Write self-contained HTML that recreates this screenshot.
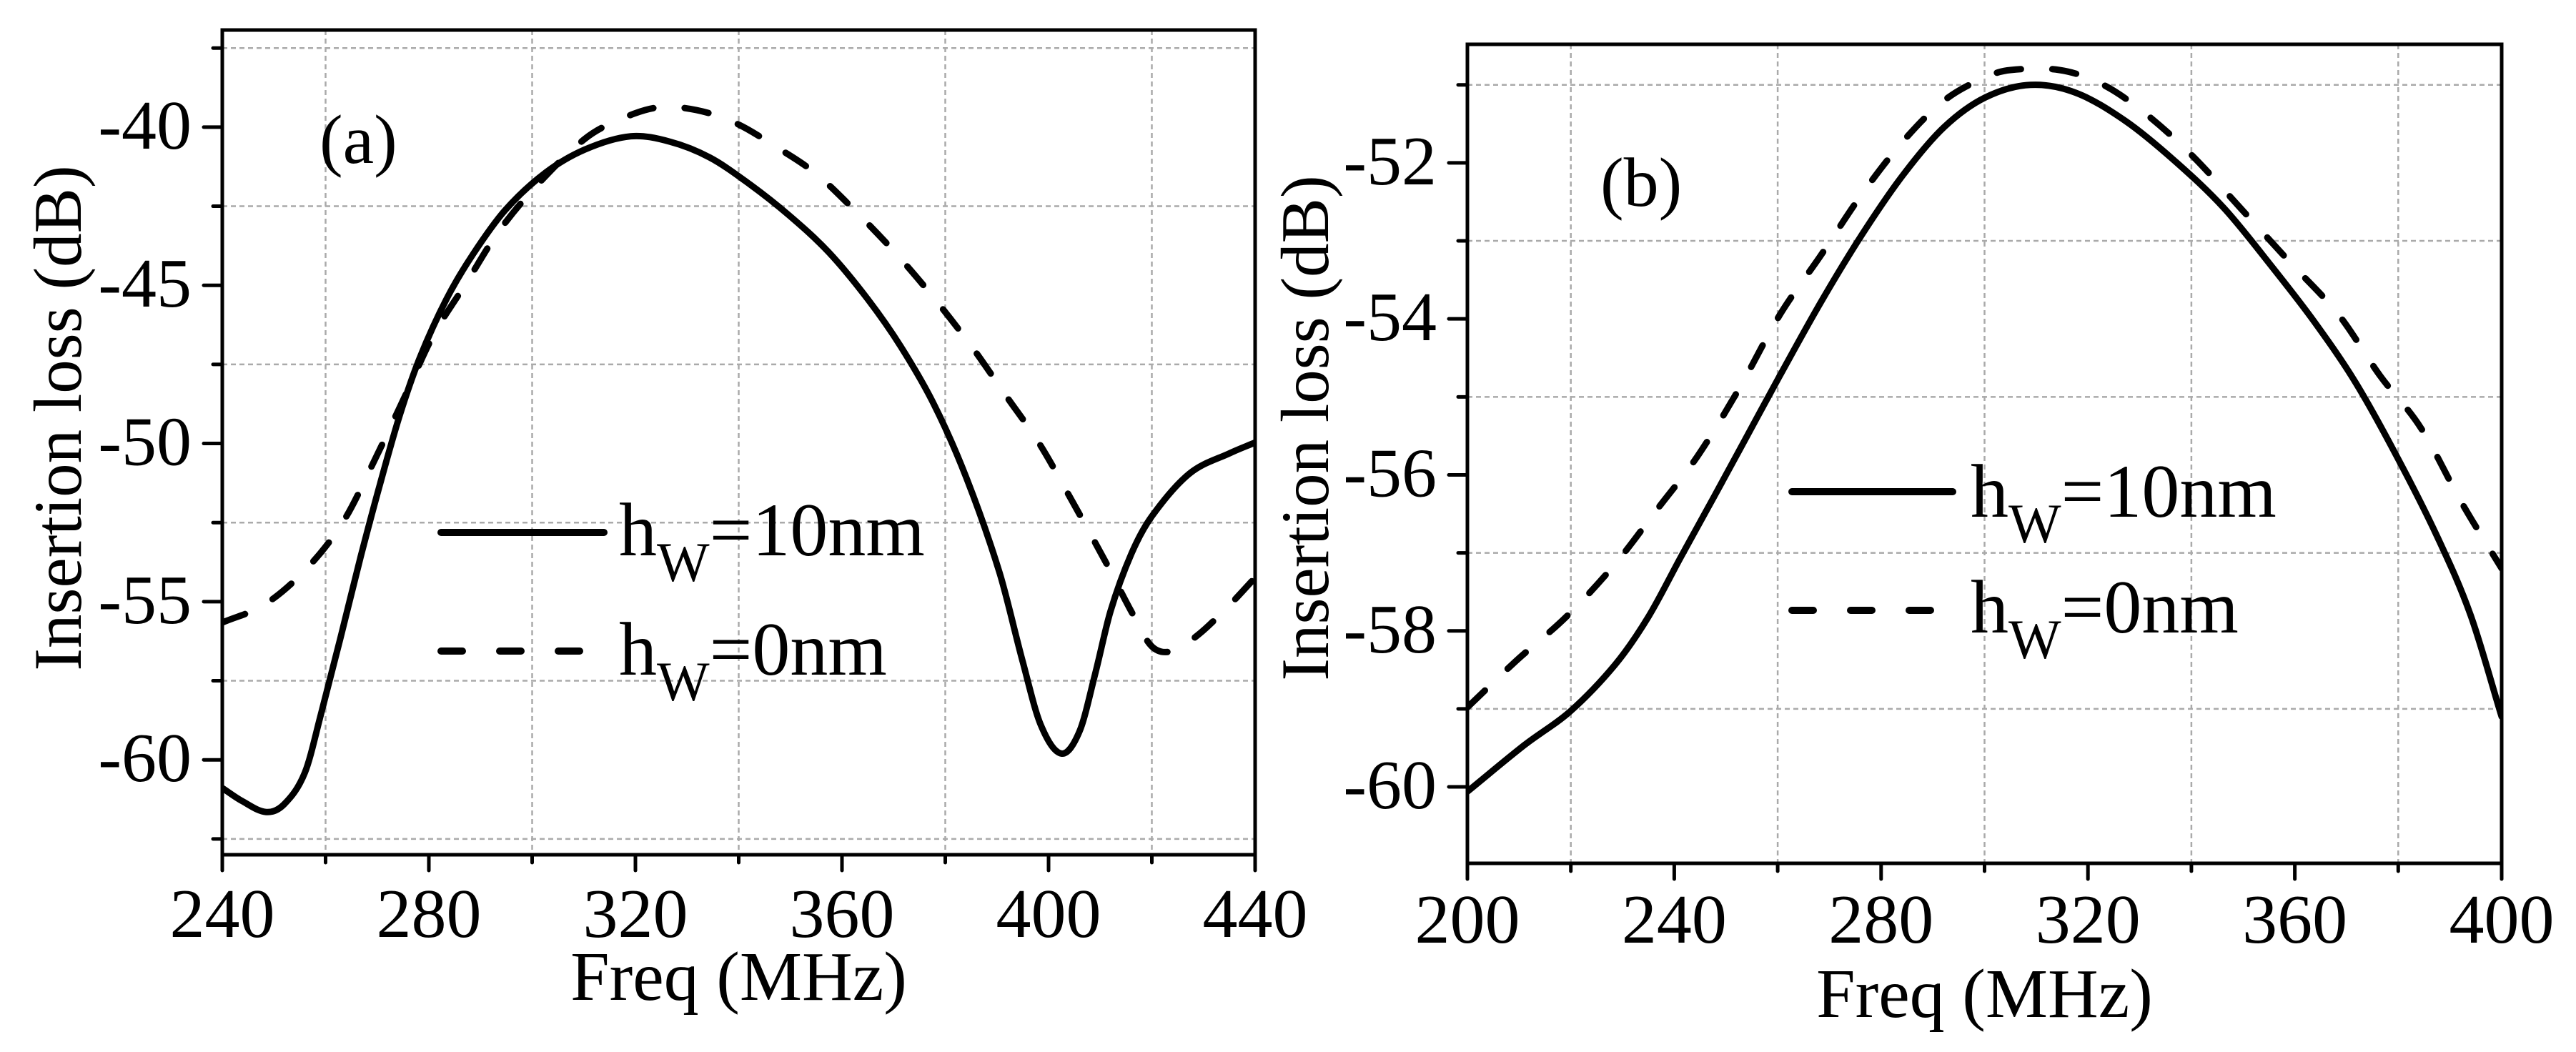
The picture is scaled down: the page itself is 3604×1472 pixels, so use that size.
<!DOCTYPE html>
<html><head><meta charset="utf-8">
<style>
html,body{margin:0;padding:0;background:#fff;}
svg{display:block;}
text{font-family:"Liberation Serif","Times New Roman",serif;fill:#000;}
</style></head>
<body>
<svg id="fig" width="3604" height="1472" viewBox="0 0 3604 1472" xmlns="http://www.w3.org/2000/svg">
<defs>
<clipPath id="clipA"><rect x="311" y="42" width="1445" height="1154"/></clipPath>
<clipPath id="clipB"><rect x="2053" y="62" width="1447" height="1146"/></clipPath>
</defs>
<g id="panelA"></g>
<g id="panelB"></g>
</svg>
<script>
// Panel (a) data
const aFreqSolid = [240,243.8,248.5,252,256,259.1,263,266.8,270.6,274.4,278.3,283.4,288.5,294.8,302.5,310.2,319.1,326.7,334.4,342,349.7,357.4,365,371.4,377.8,384.1,390.5,395,398.5,402.5,406,409,412,416,420,427.3,435.2,440];
const aLossSolid = [-60.89,-61.3,-61.65,-61.4,-60.4,-58.56,-56.07,-53.58,-51.25,-49.09,-47.27,-45.44,-44.03,-42.62,-41.45,-40.71,-40.29,-40.46,-40.96,-41.79,-42.78,-43.95,-45.44,-46.94,-48.76,-51.09,-54.08,-56.9,-58.9,-59.8,-59.1,-57.3,-55.3,-53.5,-52.3,-50.95,-50.3,-49.97];
const aFreqDash = [240,248.3,256.6,263.6,269.3,275.1,280.8,287.2,293.6,301.2,310.2,316.5,324.2,331.8,339.5,347.2,354.8,362.4,370.2,377.8,385.4,391.8,398.2,404.5,410.9,416,419.9,423.7,428.8,435.2,440];
const aLossDash = [-55.66,-55.08,-53.91,-52.42,-50.59,-48.6,-46.6,-44.94,-43.28,-41.79,-40.37,-39.79,-39.38,-39.46,-39.88,-40.62,-41.45,-42.62,-43.95,-45.4,-47.0,-48.5,-50.0,-51.8,-53.7,-55.3,-56.4,-56.57,-56.07,-55.08,-54.24];
const aXTicks = [240,280,320,360,400,440];
const aYTicks = [-40,-45,-50,-55,-60];
// Panel (b) data
const bFreqSolid = [200,211.1,219.9,228.6,235,241.3,247.7,254.1,260.4,268.4,276.3,284.3,292.2,300.2,308.9,317.6,327.2,336.7,346.3,355.8,363.8,371.7,379.7,387.6,394,400];
const bLossSolid = [-60.06,-59.46,-59.03,-58.43,-57.82,-57.05,-56.28,-55.5,-54.73,-53.78,-52.92,-52.15,-51.54,-51.16,-51.0,-51.1,-51.46,-51.97,-52.58,-53.35,-54.04,-54.81,-55.76,-56.8,-57.8,-59.1];
const bFreqDash = [200,209.5,219.1,228.6,236.6,244.5,252.5,260.4,268.4,276.3,284.3,292.2,300.2,305,314.5,322.4,330.4,339.9,349.5,359,368.5,376.5,384.4,392.3,400];
const bLossDash = [-58.98,-58.38,-57.82,-57.14,-56.45,-55.76,-54.9,-53.95,-53.18,-52.4,-51.72,-51.2,-50.9,-50.81,-50.81,-50.98,-51.33,-51.89,-52.58,-53.27,-53.95,-54.73,-55.4,-56.36,-57.2];
const bXTicks = [200,240,280,320,360,400];
const bYTicks = [-52,-54,-56,-58,-60];

const NS = "http://www.w3.org/2000/svg";
function mk(parent, tag, attrs, txt){
  const e = document.createElementNS(NS, tag);
  for (const k in attrs) e.setAttribute(k, attrs[k]);
  if (txt !== undefined) e.textContent = txt;
  parent.appendChild(e);
  return e;
}
// Catmull-Rom-like smooth path with x-spacing aware tangents
function smoothPath(pts){
  const n = pts.length;
  const t=[];
  for (let i=0;i<n;i++){
    const a=pts[Math.max(0,i-1)], b=pts[Math.min(n-1,i+1)];
    t[i]=(b[1]-a[1])/(b[0]-a[0]);
  }
  let d="M"+pts[0][0].toFixed(1)+","+pts[0][1].toFixed(1);
  for (let i=0;i<n-1;i++){
    const h=(pts[i+1][0]-pts[i][0])/3;
    d+=" C"+(pts[i][0]+h).toFixed(1)+","+(pts[i][1]+t[i]*h).toFixed(1)+" "+(pts[i+1][0]-h).toFixed(1)+","+(pts[i+1][1]-t[i+1]*h).toFixed(1)+" "+pts[i+1][0].toFixed(1)+","+pts[i+1][1].toFixed(1);
  }
  return d;
}

function drawPanel(g, cfg){
  const {L,R,T,B,x0,x1,y0,y1,clip} = cfg;
  const sx = v => L + (v-x0)/(x1-x0)*(R-L);
  const sy = v => B - (v-y0)/(y1-y0)*(B-T);
  const grid = mk(g,"g",{stroke:"#aaa","stroke-width":2.5,"stroke-dasharray":"7 5",fill:"none"});
  
  
  for (let i=0;i<cfg.xTicks.length-1;i++){
    const v = (cfg.xTicks[i]+cfg.xTicks[i+1])/2;
    mk(grid,"line",{x1:sx(v),x2:sx(v),y1:T,y2:B});
  }
  cfg.yGrid.forEach(v=>mk(grid,"line",{x1:L,x2:R,y1:sy(v),y2:sy(v)}));
  const series = [[cfg.fs,cfg.ls,null,"solid-series-hw-10nm"],[cfg.fd,cfg.ld,"34 44","dashed-series-hw-0nm"]];
  series.forEach(s=>{
    const pts = s[0].map((f,i)=>[sx(f),sy(s[1][i])]);
    const p = mk(g,"path",{d:smoothPath(pts),fill:"none",stroke:"#000","stroke-width":9,"stroke-linecap":"round","stroke-linejoin":"round","clip-path":"url(#"+clip+")"});
    if (s[2]) p.setAttribute("stroke-dasharray",s[2]);
    
    
  });
  const fr = mk(g,"rect",{x:L,y:T,width:R-L,height:B-T,fill:"none",stroke:"#000","stroke-width":5});
  
  
  cfg.xTicks.forEach((v,i)=>{
    mk(g,"line",{x1:sx(v),x2:sx(v),y1:B,y2:B+22,stroke:"#000","stroke-width":5,"stroke-linecap":"round"});
    if (i<cfg.xTicks.length-1){
      const m=(v+cfg.xTicks[i+1])/2;
      mk(g,"line",{x1:sx(m),x2:sx(m),y1:B,y2:B+11,stroke:"#000","stroke-width":5,"stroke-linecap":"round"});
    }
    const t = mk(g,"text",{x:sx(v),y:cfg.xLabY,"font-size":98,"text-anchor":"middle"},String(v));
    
    
  });
  cfg.yTicks.forEach(v=>{
    mk(g,"line",{x1:L-26,x2:L,y1:sy(v),y2:sy(v),stroke:"#000","stroke-width":5,"stroke-linecap":"round"});
    const t = mk(g,"text",{x:L-43,y:sy(v)+30,"font-size":98,"text-anchor":"end"},String(v));
    
    
  });
  cfg.yGrid.forEach(v=>{
    mk(g,"line",{x1:L-13,x2:L,y1:sy(v),y2:sy(v),stroke:"#000","stroke-width":5,"stroke-linecap":"round"});
  });
  const xt = mk(g,"text",{x:(L+R)/2,y:cfg.xTitleY,"font-size":98,"text-anchor":"middle"},"Freq (MHz)");
  
  
  const yt = mk(g,"text",{x:0,y:0,"font-size":95,"text-anchor":"middle",transform:"translate("+cfg.yTitleX+","+cfg.yTitleCY+") rotate(-90)"},"Insertion loss (dB)");
  
  
  const pl = mk(g,"text",{x:cfg.lab[0],y:cfg.lab[1],"font-size":98},cfg.lab[2]);
  
  
  const lg = mk(g,"g",{});
  
  
  const lx = cfg.leg;
  mk(lg,"line",{x1:lx.x1,x2:lx.x2,y1:lx.y1,y2:lx.y1,stroke:"#000","stroke-width":10,"stroke-linecap":"round"});
  mk(lg,"line",{x1:lx.x1,x2:lx.x2-8,y1:lx.y2,y2:lx.y2,stroke:"#000","stroke-width":10,"stroke-linecap":"round","stroke-dasharray":"30 52"});
  [[lx.b1,"=10nm"],[lx.b2,"=0nm"]].forEach(r=>{
    const t = mk(lg,"text",{x:lx.tx,y:r[0],"font-size":106});
    
    
    mk(t,"tspan",{},"h");
    mk(t,"tspan",{"font-size":78,dy:36},"W");
    mk(t,"tspan",{dy:-36},r[1]);
  });
}

drawPanel(document.getElementById("panelA"),{
  L:311,R:1756,T:42,B:1196,x0:240,x1:440,y0:-63,y1:-36.93,clip:"clipA",
  xTicks:aXTicks,yTicks:aYTicks,yGrid:[-37.5,-42.5,-47.5,-52.5,-57.5,-62.5],
  fs:aFreqSolid,ls:aLossSolid,fd:aFreqDash,ld:aLossDash,
  xLabY:1311,xTitleY:1399,yTitleX:113,yTitleCY:585,lab:[447,228,"(a)"],
  leg:{x1:617,x2:845,y1:745,y2:911,tx:866,b1:777,b2:944}
});
drawPanel(document.getElementById("panelB"),{
  L:2053,R:3500,T:62,B:1208,x0:200,x1:400,y0:-60.98,y1:-50.48,clip:"clipB",
  xTicks:bXTicks,yTicks:bYTicks,yGrid:[-51,-53,-55,-57,-59],
  fs:bFreqSolid,ls:bLossSolid,fd:bFreqDash,ld:bLossDash,
  xLabY:1319,xTitleY:1423,yTitleX:1858,yTitleCY:599,lab:[2239,288,"(b)"],
  leg:{x1:2507,x2:2732,y1:688,y2:854,tx:2757,b1:723,b2:885}
});
</script>
</body></html>
